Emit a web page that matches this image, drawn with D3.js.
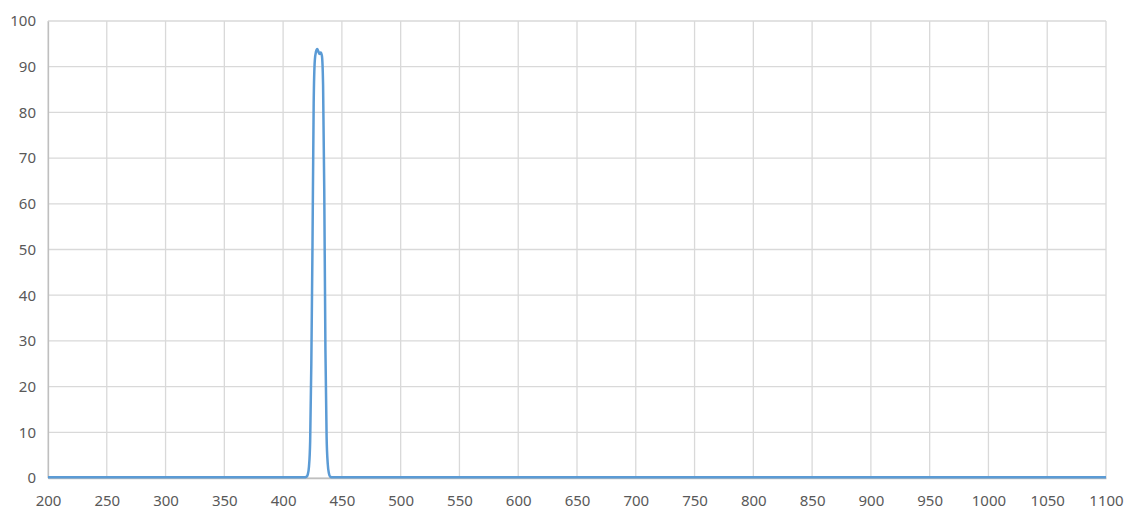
<!DOCTYPE html>
<html>
<head>
<meta charset="utf-8">
<script src="https://cdn.jsdelivr.net/npm/d3@7"></script>
<style>
  body { margin: 0; background: #fff; }
  svg { display: block; }
  .tick text { font-family: "Noto Sans", sans-serif; font-size: 15px; fill: #595959; }
</style>
</head>
<body>
<svg></svg>
<script>
// wavelength (nm) and transmission (%)
var wavelength = [200, 300, 400, 418, 420, 421, 422, 423, 424, 425, 426, 427, 428, 429, 430, 431, 432, 433, 434, 435, 436, 437, 438, 439, 440, 442, 500, 700, 900, 1100];
var transmission = [0.15, 0.15, 0.15, 0.15, 0.3, 0.8, 2.5, 8, 25, 51, 82, 91.5, 93.3, 93.9, 93.3, 92.8, 93.1, 92.4, 86, 63, 28, 9, 3, 1, 0.3, 0.15, 0.15, 0.15, 0.15, 0.15];

var xTicks = d3.range(200, 1101, 50);
var yTicks = d3.range(0, 101, 10);

var w = 1133;
var h = 512;
var margin = {top: 21, right: 27, bottom: 34, left: 48};

var svg = d3.select('svg')
            .attr('width', w)
            .attr('height', h);

var x = d3.scaleLinear()
          .domain([200, 1100])
          .range([margin.left, w - margin.right]);

var y = d3.scaleLinear()
          .domain([0, 100])
          .range([h - margin.bottom, margin.top]);

// grid
svg.append('g')
   .selectAll('line')
   .data(xTicks)
   .enter()
   .append('line')
   .attr('x1', function(d){ return x(d); })
   .attr('x2', function(d){ return x(d); })
   .attr('y1', y(0))
   .attr('y2', y(100))
   .attr('stroke', '#d9d9d9')
   .attr('stroke-width', 1.3);

svg.append('g')
   .selectAll('line')
   .data(yTicks)
   .enter()
   .append('line')
   .attr('x1', x(200))
   .attr('x2', x(1100))
   .attr('y1', function(d){ return y(d); })
   .attr('y2', function(d){ return y(d); })
   .attr('stroke', '#d9d9d9')
   .attr('stroke-width', 1.3);

// axes (labels only)
var xAxis = svg.append('g')
               .attr('transform', 'translate(0,' + y(0) + ')')
               .call(d3.axisBottom(x).tickValues(xTicks).tickSize(0).tickPadding(17).tickFormat(d3.format('d')));
xAxis.select('.domain').attr('stroke', '#bfbfbf').attr('stroke-width', 1.3);

var yAxis = svg.append('g')
               .attr('transform', 'translate(' + x(200) + ',0)')
               .call(d3.axisLeft(y).tickValues(yTicks).tickSize(0).tickPadding(12).tickFormat(d3.format('d')));
yAxis.select('.domain').attr('stroke', '#bfbfbf').attr('stroke-width', 1.3);

// data line
var line = d3.line()
             .x(function(d, i){ return x(wavelength[i]); })
             .y(function(d){ return y(d); })
             .curve(d3.curveMonotoneX);

svg.append('path')
   .datum(transmission)
   .attr('d', line)
   .attr('fill', 'none')
   .attr('stroke', '#5b9bd5')
   .attr('stroke-width', 2.5)
   .attr('stroke-linejoin', 'round');
</script>
</body>
</html>
